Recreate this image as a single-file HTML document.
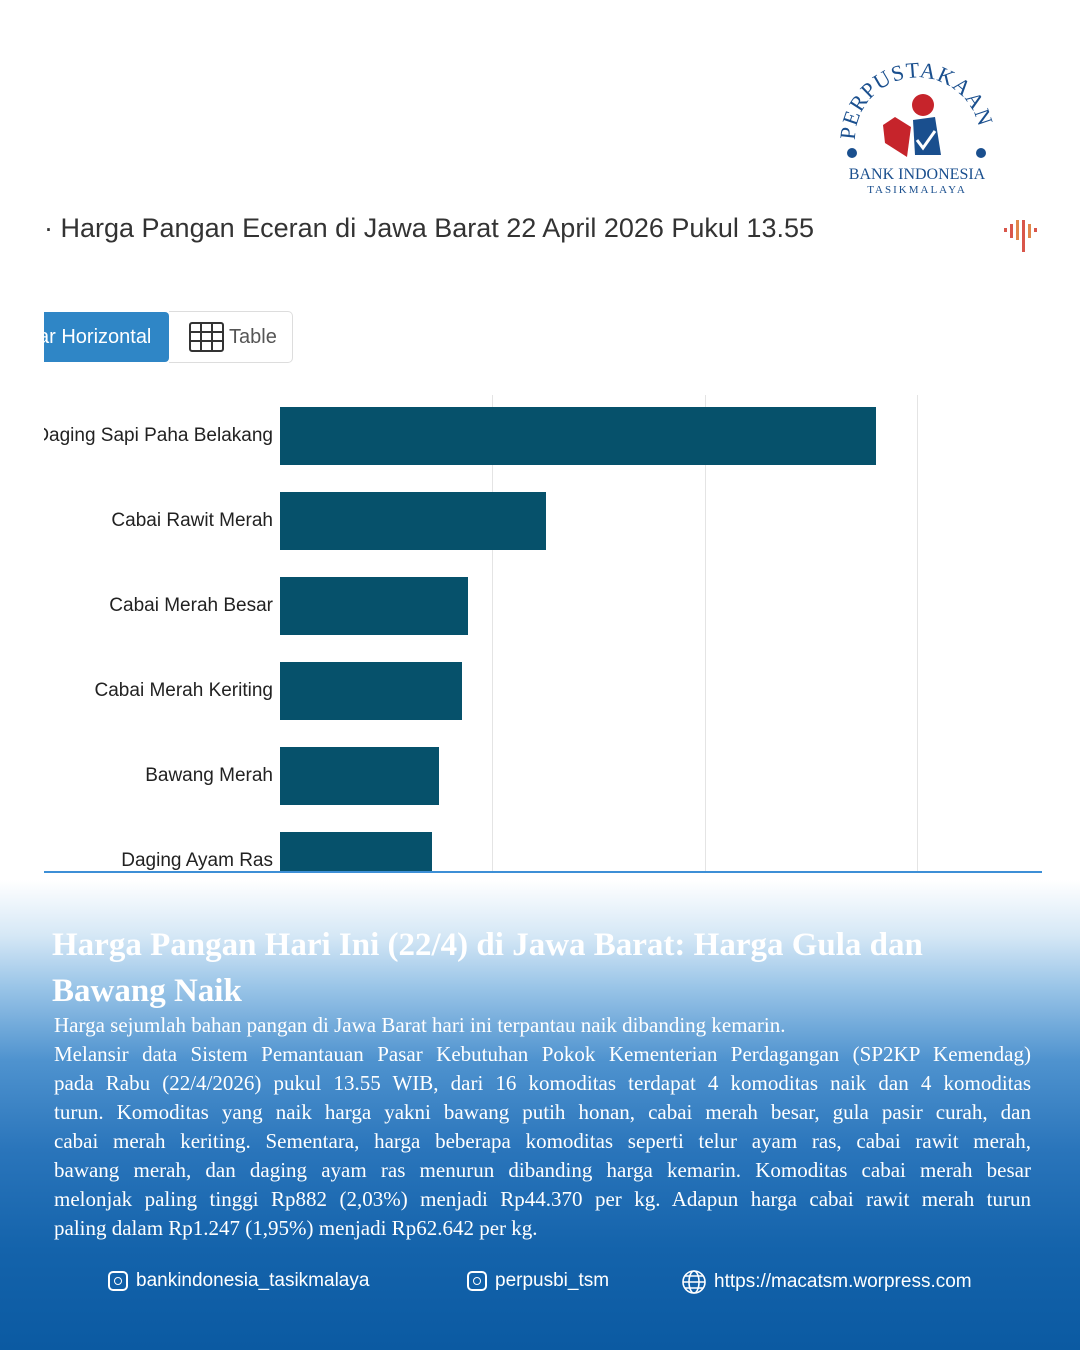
<!DOCTYPE html>
<html><head><meta charset="utf-8"><style>
body{margin:0;width:1080px;height:1350px;position:relative;overflow:hidden;font-family:"Liberation Sans",sans-serif;
background:linear-gradient(to bottom,#fff 0px,#fff 880px,#d6e8f6 935px,#9cc6e8 985px,#4f93cf 1060px,#2a75bb 1150px,#1463ab 1250px,#0b5aa2 1350px);}
.a{position:absolute}
.lbl{position:absolute;right:807px;font-size:19px;color:#222;white-space:nowrap}
.bar{position:absolute;left:280px;background:#06516b}
.grid{position:absolute;top:395px;width:1px;height:477px;background:#e4e4e4}
.body{position:absolute;left:54px;top:1011px;width:977px;font-family:"Liberation Serif",serif;font-size:21px;line-height:29px;color:#fff}
.body div{text-align:justify;text-align-last:justify;white-space:nowrap}
.body div.l{text-align-last:left}
.ft{position:absolute;top:1270px;font-size:19px;color:#fff;display:flex;align-items:center;gap:8px}
.ig{width:20px;height:20px;border:2px solid #fff;border-radius:5px;position:relative;box-sizing:border-box}
.ig:after{content:"";position:absolute;left:4px;top:4px;width:8px;height:8px;border:1.6px solid #fff;border-radius:50%;box-sizing:border-box}
</style></head><body>
<div class="a" style="left:44px;top:213px;font-size:27px;color:#333;white-space:nowrap">· Harga Pangan Eceran di Jawa Barat 22 April 2026 Pukul 13.55</div>
<svg class="a" style="left:1003px;top:217px" width="40" height="36"><g fill="#d9564a"><rect x="1" y="11" width="3" height="4"/><rect x="7" y="7" width="3" height="14"/><rect x="13" y="3" width="3" height="20" fill="#e0864a"/><rect x="19" y="3" width="3" height="32"/><rect x="25" y="7" width="3" height="14" fill="#e0864a"/><rect x="31" y="11" width="3" height="4"/></g></svg>
<svg class="a" style="left:835px;top:55px" width="165" height="145" viewBox="0 0 165 145">
<path id="arc" d="M20,85 A62,62 0 1 1 145,85" fill="none"/>
<text font-family="Liberation Serif,serif" font-size="22" fill="#1a4f8e" letter-spacing="1"><textPath href="#arc">PERPUSTAKAAN</textPath></text>
<circle cx="17" cy="98" r="5" fill="#1a4f8e"/><circle cx="146" cy="98" r="5" fill="#1a4f8e"/>
<circle cx="88" cy="50" r="11" fill="#c6242b"/>
<path d="M48,70 L60,62 L76,72 L72,102 L50,88 Z" fill="#c6242b"/>
<path d="M78,65 L100,62 L106,100 L80,100 Z" fill="#1a4f8e"/>
<path d="M82,85 L88,93 L100,76" stroke="#fff" stroke-width="3" fill="none"/>
<text x="82" y="124" text-anchor="middle" font-family="Liberation Serif,serif" font-size="16" fill="#1a4f8e">BANK INDONESIA</text>
<text x="82" y="138" text-anchor="middle" font-family="Liberation Serif,serif" font-size="11" letter-spacing="2" fill="#1a4f8e">TASIKMALAYA</text>
</svg>
<div class="a" style="left:44px;top:312px;width:125px;height:50px;background:#2f86c6;border-radius:0 4px 4px 0;color:#fff;font-size:20px;line-height:50px;overflow:hidden;white-space:nowrap;text-indent:-6px">ar Horizontal</div>
<div class="a" style="left:169px;top:311px;width:123px;height:50px;border:1px solid #ddd;border-left:none;border-radius:0 5px 5px 0;font-size:20px;color:#555;line-height:50px">
<svg style="position:absolute;left:20px;top:10px" width="36" height="30"><g fill="none" stroke="#333" stroke-width="2"><rect x="1" y="1" width="33" height="28" rx="2"/><line x1="1" y1="10" x2="34" y2="10"/><line x1="1" y1="19" x2="34" y2="19"/><line x1="12" y1="1" x2="12" y2="29"/><line x1="23" y1="1" x2="23" y2="29"/></g></svg>
<span style="position:absolute;left:60px">Table</span></div>
<div class="grid" style="left:492px"></div><div class="grid" style="left:705px"></div><div class="grid" style="left:917px"></div>
<div class="bar" style="top:407px;width:596px;height:58px"></div>
<div class="bar" style="top:492px;width:266px;height:58px"></div>
<div class="bar" style="top:577px;width:188px;height:58px"></div>
<div class="bar" style="top:662px;width:182px;height:58px"></div>
<div class="bar" style="top:747px;width:159px;height:58px"></div>
<div class="bar" style="top:832px;width:152px;height:40px"></div>
<div class="lbl" style="top:425px;left:44px;right:auto;width:229px;text-align:right;overflow:hidden;direction:rtl">Daging Sapi Paha Belakang</div>
<div class="lbl" style="top:510px">Cabai Rawit Merah</div>
<div class="lbl" style="top:595px">Cabai Merah Besar</div>
<div class="lbl" style="top:680px">Cabai Merah Keriting</div>
<div class="lbl" style="top:765px">Bawang Merah</div>
<div class="lbl" style="top:850px">Daging Ayam Ras</div>
<div class="a" style="left:0;top:872px;width:1080px;height:8px;background:#fff"></div>
<div class="a" style="left:44px;top:871px;width:998px;height:2px;background:#3d8fd6"></div>
<div class="a" style="left:52px;top:922px;font-family:'Liberation Serif',serif;font-weight:bold;font-size:33px;line-height:46px;color:#fff;width:960px">Harga Pangan Hari Ini (22/4) di Jawa Barat: Harga Gula dan Bawang Naik</div>
<div class="body">
<div class="l">Harga sejumlah bahan pangan di Jawa Barat hari ini terpantau naik dibanding kemarin.</div>
<div>Melansir data Sistem Pemantauan Pasar Kebutuhan Pokok Kementerian Perdagangan (SP2KP Kemendag)</div>
<div>pada Rabu (22/4/2026) pukul 13.55 WIB, dari 16 komoditas terdapat 4 komoditas naik dan 4 komoditas</div>
<div>turun. Komoditas yang naik harga yakni bawang putih honan, cabai merah besar, gula pasir curah, dan</div>
<div>cabai merah keriting. Sementara, harga beberapa komoditas seperti telur ayam ras, cabai rawit merah,</div>
<div>bawang merah, dan daging ayam ras menurun dibanding harga kemarin. Komoditas cabai merah besar</div>
<div>melonjak paling tinggi Rp882 (2,03%) menjadi Rp44.370 per kg. Adapun harga cabai rawit merah turun</div>
<div class="l">paling dalam Rp1.247 (1,95%) menjadi Rp62.642 per kg.</div>
</div>
<div class="ft" style="left:108px"><div class="ig"></div>bankindonesia_tasikmalaya</div>
<div class="ft" style="left:467px"><div class="ig"></div>perpusbi_tsm</div>
<div class="ft" style="left:682px"><svg width="24" height="24" viewBox="0 0 24 24" fill="none" stroke="#fff" stroke-width="1.6"><circle cx="12" cy="12" r="11"/><ellipse cx="12" cy="12" rx="5" ry="11"/><line x1="1" y1="12" x2="23" y2="12"/><line x1="3" y1="6" x2="21" y2="6"/><line x1="3" y1="18" x2="21" y2="18"/></svg>https://macatsm.worpress.com</div>
</body></html>
